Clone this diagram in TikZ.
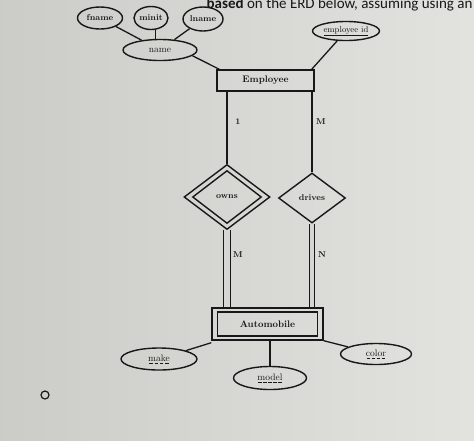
\documentclass[tikz,border=0pt]{standalone}
\usepackage{fontspec}
\newfontfamily\promptfont{Carlito}
\usetikzlibrary{shapes.geometric}
\definecolor{screen}{RGB}{214,214,210}
\definecolor{ink}{RGB}{24,24,24}
\newcommand\dashkey[1]{\setbox0\hbox{#1}\vtop{\copy0\nointerlineskip\kern1.8pt\hbox to\wd0{\xleaders\hbox to 5pt{\hss\rule{3.2pt}{0.6pt}\hss}\hfill}}}
\tikzset{
  attr/.style={ellipse, draw=ink, line width=1.4pt, inner sep=0pt, text=ink, font=\fontsize{9.5}{11}\selectfont},
  entity/.style={rectangle, draw=ink, line width=1.4pt, inner sep=0pt, text=ink, font=\bfseries\fontsize{9.5}{11}\selectfont},
  rel/.style={diamond, draw=ink, line width=1.4pt, inner sep=0pt, text=ink, font=\bfseries\fontsize{8.5}{10}\selectfont},
  link/.style={draw=ink, line width=1.3pt},
  card/.style={text=ink, font=\bfseries\fontsize{8.5}{9}\selectfont},
}
\begin{document}
\begin{tikzpicture}[x=1pt,y=-1pt]
  \useasboundingbox (0,0) rectangle (474,440);
  \clip (0,0) rectangle (474,440);
  \shade[left color=screen!95!black, right color=screen!70!white] (0,0) rectangle (474,440);
  \node[anchor=base east, text=ink, font=\promptfont\fontsize{15}{18}\selectfont] (prompt) at (476,8.5) {\textbf{based} on the ERD below, assuming using an};
  % composite attribute name
  \node[attr, minimum width=45, minimum height=22, font=\bfseries\fontsize{8.5}{10}\selectfont] (fname) at (100,18) {fname};
  \node[attr, minimum width=34, minimum height=23, font=\bfseries\fontsize{8.5}{10}\selectfont] (minit) at (151,18) {minit};
  \node[attr, minimum width=40, minimum height=24, font=\bfseries\fontsize{8.5}{10}\selectfont] (lname) at (203,19) {lname};
  \node[attr, minimum width=74, minimum height=21] (name) at (160,50) {name};
  \node[attr, minimum width=67, minimum height=19, font=\fontsize{8.5}{10}\selectfont] (empid) at (346,31) {\underline{employee id}};
  % entities
  \node[entity, minimum width=97, minimum height=21] (emp) at (265.5,80.5) {Employee};
  \node[entity, minimum width=111, minimum height=32] (auto) at (267.5,324) {};
  \node[entity, minimum width=100, minimum height=24] (autoin) at (auto.center) {Automobile};
  % relationships
  \node[rel, minimum width=86, minimum height=65] (owns) at (227,197) {};
  \node[rel, minimum width=69, minimum height=53] (ownsin) at (owns.center) {owns};
  \node[rel, minimum width=67, minimum height=50] (drives) at (312,198) {drives};
  % partial keys
  \node[attr, minimum width=76, minimum height=22] (make) at (159,359) {\dashkey{make}};
  \node[attr, minimum width=73, minimum height=23] (model) at (270,378) {\dashkey{model}};
  \node[attr, minimum width=71, minimum height=21] (color) at (376,354) {\dashkey{color}};
  % cardinalities
  \node[card] (c1) at (238,122) {1};
  \node[card] (cm1) at (321,122) {M};
  \node[card] (cm2) at (238,255) {M};
  \node[card] (cn) at (322,255) {N};
  \node[circle, draw=ink, line width=1.2pt, minimum size=8, inner sep=0pt] (radio) at (45,395) {};
  % connectors
  \draw[link] (fname) -- (name);
  \draw[link] (minit.-70) -- (minit.-70 |- name.north);
  \draw[link] (lname) -- (name);
  \draw[link] (name.-10) -- ([xshift=3pt]emp.north west);
  \draw[link] (empid) -- ([xshift=-3pt]emp.north east);
  \draw[link] (owns.north |- emp.south) -- (owns.north);
  \draw[link] (drives.north |- emp.south) -- (drives.north);
  \draw[link, double=screen, double distance=5.5pt] (owns.south) -- (owns.south |- auto.north);
  \draw[link, double=screen, double distance=4pt] (drives.south) -- (drives.south |- auto.north);
  \draw[link] ([yshift=-2pt]auto.south west) -- (make);
  \draw[link] (model.north |- auto.south) -- (model.north);
  \draw[link] (auto.south east) -- (color);
\end{tikzpicture}
\end{document}
